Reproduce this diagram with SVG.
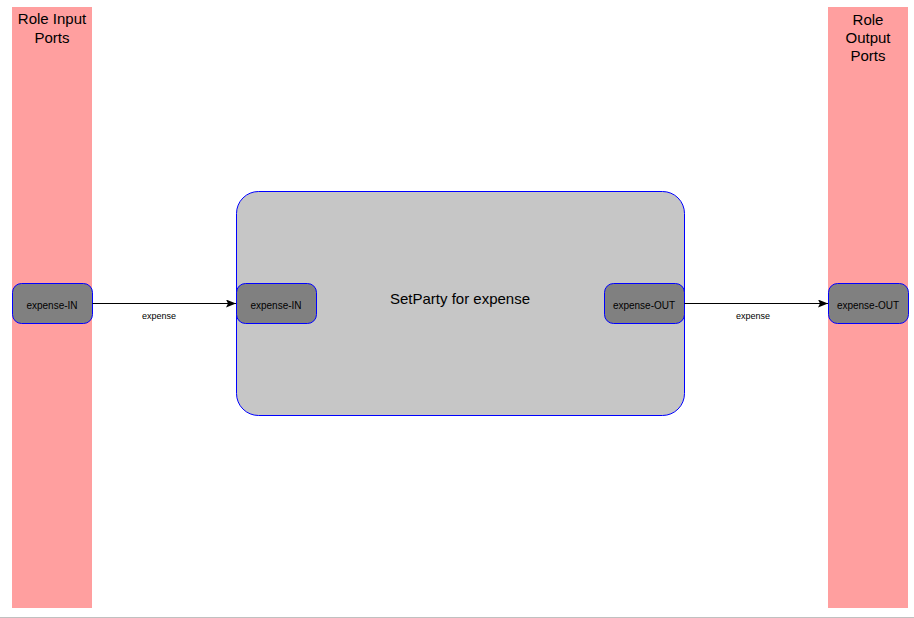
<svg xmlns="http://www.w3.org/2000/svg" width="914" height="618" viewBox="0 0 914 618">
<defs>
<style>
.lane{fill:#ff9f9f}
.lt{font-family:"Liberation Sans",Arial,sans-serif;font-size:15px;fill:#000;text-anchor:middle}
.port{fill:#808080;stroke:#0000ff;stroke-width:1}
.pt{font-family:"Liberation Sans",Arial,sans-serif;font-size:10px;fill:#000;text-anchor:middle}
.proc{fill:#c6c6c6;stroke:#0000ff;stroke-width:1}
.conn{stroke:#000;stroke-width:1;fill:none;marker-end:url(#arr)}
.cl{font-family:"Liberation Sans",Arial,sans-serif;font-size:9px;fill:#000;text-anchor:middle}
</style>
<marker id="arr" markerWidth="10" markerHeight="8" refX="10" refY="4" orient="auto" markerUnits="userSpaceOnUse">
<path d="M0,0 L10,4 L0,8 L2,4 Z" fill="#000"/>
</marker>
</defs>
<rect width="914" height="618" fill="#fff"/>
<line x1="0" y1="617.5" x2="914" y2="617.5" stroke="#c0c0c0"/>
<g id="lane-input">
<rect class="lane" x="12" y="7" width="80" height="601"/>
<text class="lt" x="52" y="24">Role Input</text>
<text class="lt" x="52" y="43">Ports</text>
</g>
<g id="lane-output">
<rect class="lane" x="828" y="7" width="80" height="601"/>
<text class="lt" x="868" y="25">Role</text>
<text class="lt" x="868" y="43">Output</text>
<text class="lt" x="868" y="61">Ports</text>
</g>
<g id="process">
<rect class="proc" x="236.5" y="191.5" width="448" height="224" rx="22" ry="22"/>
<text class="lt" x="460" y="304">SetParty for expense</text>
</g>
<g id="role-in-port">
<rect class="port" x="12.5" y="283.5" width="80" height="40" rx="9" ry="9"/>
<text class="pt" x="52" y="309">expense-IN</text>
</g>
<g id="proc-in-port">
<rect class="port" x="236.5" y="283.5" width="80" height="40" rx="9" ry="9"/>
<text class="pt" x="276" y="309">expense-IN</text>
</g>
<g id="proc-out-port">
<rect class="port" x="604.5" y="283.5" width="80" height="40" rx="9" ry="9"/>
<text class="pt" x="644" y="309">expense-OUT</text>
</g>
<g id="role-out-port">
<rect class="port" x="828.5" y="283.5" width="80" height="40" rx="9" ry="9"/>
<text class="pt" x="868" y="309">expense-OUT</text>
</g>
<g id="connectors">
<path class="conn" d="M92.5,303.5 L236,303.5"/>
<text class="cl" x="159" y="319">expense</text>
<path class="conn" d="M684.5,303.5 L828,303.5"/>
<text class="cl" x="753" y="319">expense</text>
</g>
</svg>
